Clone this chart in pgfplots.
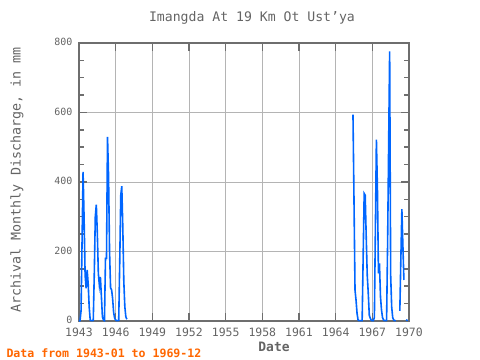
\documentclass[border=0pt]{standalone}
\usepackage{pgfplots}
\pgfplotsset{compat=1.18}
\usepackage{fontspec}
\setmainfont{DejaVu Sans Mono}
\definecolor{axgray}{RGB}{110,110,110}
\definecolor{txtgray}{RGB}{100,100,100}
\definecolor{gridgray}{RGB}{180,180,180}
\definecolor{lineblue}{RGB}{0,102,255}
\definecolor{footorange}{RGB}{255,102,0}
\pgfplotstableread{
x y
1943.000 0
1943.083 1
1943.167 29
1943.250 228
1943.333 429
1943.417 295
1943.500 132
1943.583 94
1943.667 147
1943.750 108
1943.833 41
1943.917 3
1944.000 1
1944.083 1
1944.167 2
1944.250 134
1944.333 300
1944.417 335
1944.500 252
1944.583 137
1944.667 103
1944.750 127
1944.833 70
1944.917 12
1945.000 3
1945.083 1
1945.167 180
1945.250 180
1945.333 530
1945.417 420
1945.500 200
1945.583 95
1945.667 90
1945.750 65
1945.833 25
1945.917 8
1946.000 3
1946.083 1
1946.167 1
1946.250 2
1946.333 170
1946.417 362
1946.500 388
1946.583 271
1946.667 113
1946.750 41
1946.833 12
1946.917 5
1955.000 nan
1965.417 594
1965.500 348
1965.583 89
1965.667 60
1965.750 22
1965.833 3
1965.917 1
1966.000 1
1966.083 1
1966.167 1
1966.250 185
1966.333 367
1966.417 362
1966.500 242
1966.583 132
1966.667 80
1966.750 17
1966.833 8
1966.917 2
1967.000 1
1967.083 1
1967.167 10
1967.250 266
1967.333 522
1967.417 381
1967.500 137
1967.583 166
1967.667 70
1967.750 32
1967.833 10
1967.917 3
1968.000 1
1968.083 1
1968.167 2
1968.250 223
1968.333 501
1968.417 776
1968.500 132
1968.583 41
1968.667 10
1968.750 3
1968.833 1
1968.917 1
1969.000 nan
1969.250 29
1969.333 177
1969.417 322
1969.500 218
1969.583 118
1969.667 nan
1969.750 3
1969.833 2
1969.917 2
}\datatable
\begin{document}
\begin{tikzpicture}
\path[use as bounding box] (0bp,0bp) rectangle (480bp,360bp);
\begin{axis}[
  at={(79bp,39bp)}, anchor=south west,
  scale only axis, width=330bp, height=278bp,
  xmin=1943, xmax=1970, ymin=0, ymax=800,
  xtick={1943,1946,...,1970}, minor x tick num=2,
  ytick={0,200,...,800}, minor y tick num=3,
  xmajorgrids=true, xminorgrids=true, ymajorgrids=true,
  grid style={gridgray, line width=0.8bp},
  minor grid style={gridgray, line width=0.8bp},
  tick align=inside,
  major tick length=8bp, minor tick length=5bp,
  every tick/.style={axgray, line width=1.5bp},
  axis line style={axgray, line width=2.2bp},
  /pgf/number format/assume math mode=true,
  x tick label style={/pgf/number format/1000 sep={}, font=\fontsize{11.5}{11.5}\selectfont, text=txtgray, yshift=-3bp},
  y tick label style={font=\fontsize{10}{10}\selectfont, text=txtgray, xshift=-3bp, yshift=1bp},
  unbounded coords=jump,
  clip=false,
]
\addplot[lineblue, line width=1.6bp, mark=none] table[x=x,y=y] {\datatable};
\end{axis}
\node[text=txtgray, font=\fontsize{13.2}{13.2}\selectfont] at (252bp,342bp) {Imangda At 19 Km Ot Ust'ya};
\node[text=txtgray, font=\bfseries\fontsize{13}{13}\selectfont] at (274bp,13bp) {Date};
\node[text=footorange, font=\bfseries\fontsize{11.6}{11.6}\selectfont, anchor=west] at (3bp,7bp) {Data from 1943-01 to 1969-12};
\node[text=txtgray, font=\fontsize{13.4}{13.4}\selectfont, rotate=90] at (17bp,180bp) {Archival Monthly Discharge, in mm};
\end{tikzpicture}
\end{document}
